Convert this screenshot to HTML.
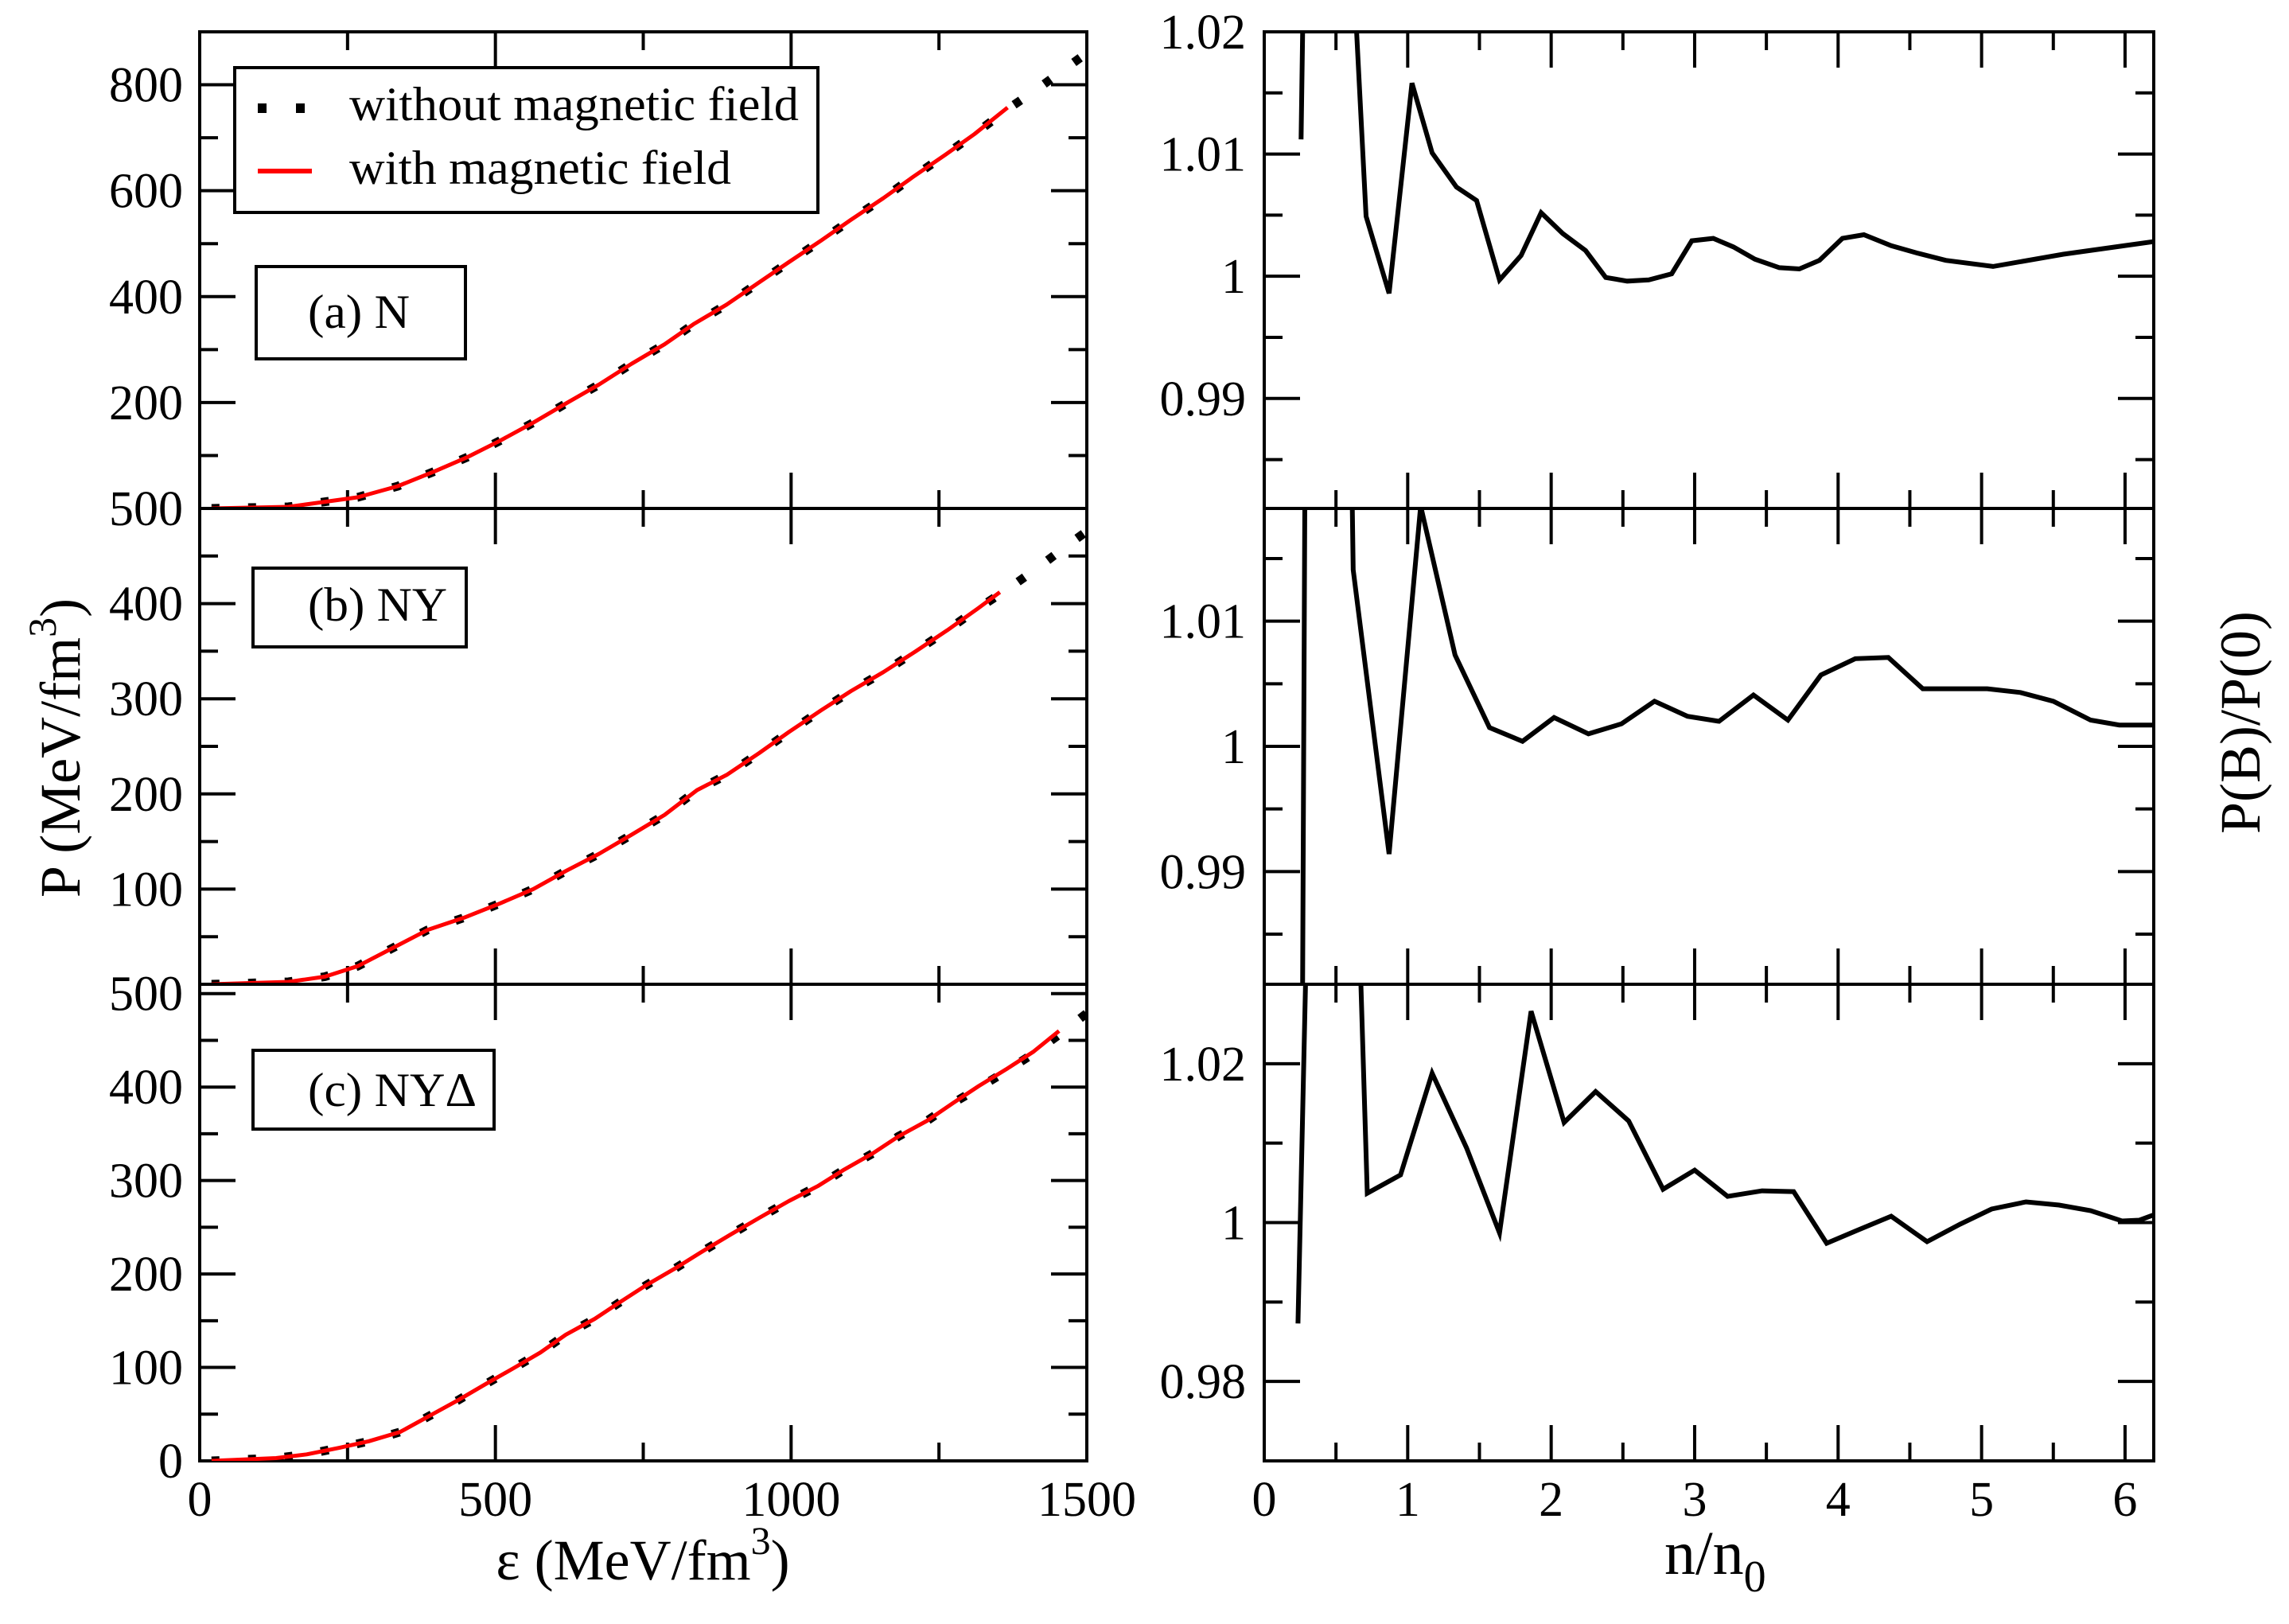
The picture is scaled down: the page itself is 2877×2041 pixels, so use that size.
<!DOCTYPE html>
<html><head><meta charset="utf-8"><style>
html,body{margin:0;padding:0;background:#fff;}
svg, svg text, svg tspan{font-family:"Liberation Serif","Times New Roman",serif !important;}
</style></head><body>
<svg id="chart" width="2877" height="2036" viewBox="0 0 2877 2036" xmlns="http://www.w3.org/2000/svg" style="font-family:'Liberation Serif',serif">
<defs>
<clipPath id="cl1"><rect x="251" y="40" width="1115" height="599"/></clipPath>
<clipPath id="cl2"><rect x="251" y="639" width="1115" height="598"/></clipPath>
<clipPath id="cl3"><rect x="251" y="1237" width="1115" height="599"/></clipPath>
<clipPath id="cr1"><rect x="1589" y="40" width="1118" height="599"/></clipPath>
<clipPath id="cr2"><rect x="1589" y="639" width="1118" height="598"/></clipPath>
<clipPath id="cr3"><rect x="1589" y="1237" width="1118" height="599"/></clipPath>
</defs>
<g id="layer"></g>
<text style="font-family:'Liberation Serif',serif" transform="translate(100,940) rotate(-90)" text-anchor="middle" font-size="72">P (MeV/fm<tspan dy="-30" font-size="50">3</tspan><tspan dy="30">)</tspan></text>
<text style="font-family:'Liberation Serif',serif" transform="translate(2840,908) rotate(-90)" text-anchor="middle" font-size="72">P(B)/P(0)</text>
<text style="font-family:'Liberation Serif',serif" x="808" y="1985" text-anchor="middle" font-size="72">ε (MeV/fm<tspan dy="-32" font-size="50">3</tspan><tspan dy="32">)</tspan></text>
<text style="font-family:'Liberation Serif',serif" x="2092" y="1978" font-size="78">n/n<tspan dy="22" font-size="56">0</tspan></text>
<g>
<rect x="295" y="85" width="733" height="182" fill="#fff" stroke="#000" stroke-width="4"/>
<line x1="324" y1="136" x2="392" y2="136" stroke="#000" stroke-width="12" stroke-dasharray="11 37"/>
<text style="font-family:'Liberation Serif',serif" x="439" y="151" font-size="60" textLength="565" lengthAdjust="spacingAndGlyphs">without magnetic field</text>
<line x1="324" y1="215" x2="392" y2="215" stroke="#f00" stroke-width="6"/>
<text style="font-family:'Liberation Serif',serif" x="439" y="231" font-size="60" textLength="480" lengthAdjust="spacingAndGlyphs">with magnetic field</text>
</g>
<g><rect x="322" y="335" width="263" height="116" fill="#fff" stroke="#000" stroke-width="4"/><text style="font-family:'Liberation Serif',serif" x="387" y="412" font-size="60" textLength="128" lengthAdjust="spacingAndGlyphs">(a) N</text></g>
<g><rect x="318" y="714" width="268" height="99" fill="#fff" stroke="#000" stroke-width="4"/><text style="font-family:'Liberation Serif',serif" x="387" y="780" font-size="60" textLength="175" lengthAdjust="spacingAndGlyphs">(b) NY</text></g>
<g><rect x="318" y="1320" width="303" height="99" fill="#fff" stroke="#000" stroke-width="4"/><text style="font-family:'Liberation Serif',serif" x="387" y="1390" font-size="60" textLength="212" lengthAdjust="spacingAndGlyphs">(c) NYΔ</text></g>
</svg>
<script>
// ---- data ----
const epsA = [20,150,267,335,397,453,508,564,619,675,730,786,835,891,946,996,1051,1101,1156,1206,1261,1310,1366,1416,1468,1500];
const pA0  = [0,3,21,42,70,97,128,162,198,234,273,310,348,385,427,465,506,545,586,626,668,707,754,792,834,860];
const epsAB = [20,150,267,335,397,453,508,564,619,675,730,786,835,891,946,996,1051,1101,1156,1206,1261,1310,1366];
const pAB  = [0,3,21,42,70,97,128,162,198,234,273,310,348,385,427,465,506,545,586,626,668,707,757];
const epsB = [20,150,212,267,329,385,447,508,564,619,675,730,786,841,891,946,996,1051,1101,1156,1211,1264,1316,1368,1420,1471,1500];
const pB0  = [0,2.5,8,19,39,57,70,85,100,119,137,157,178,204,220,243,265,288,308,328,350,372,395,416,439,463,476];
const epsBB = [20,150,212,267,329,385,447,508,564,619,675,730,786,841,891,946,996,1051,1101,1156,1211,1264,1316,1353];
const pBB  = [0,2.5,8,19,39,57,70,85,100,119,137,157,178,204,220,243,265,288,308,328,350,372,395,412];
const epsC = [20,129,181,236,286,339,391,437,483,533,576,619,668,711,755,804,847,897,946,996,1045,1088,1138,1181,1230,1274,1317,1366,1410,1453,1500];
const pC0  = [0,3,7,14,21,31,49,65,82,100,116,135,152,170,188,206,223,242,260,278,294,311,329,347,364,383,399,418,436,456,479];
const epsCB = [20,129,181,236,286,339,391,437,483,533,576,619,668,711,755,804,847,897,946,996,1045,1088,1138,1181,1230,1274,1317,1366,1410,1453];
const pCB  = [0,3,7,14,21,31,49,65,82,100,116,135,152,170,188,206,223,242,260,278,294,311,329,347,364,383,401,420,438,460];
const nA = [0.257,0.28,0.60,0.71,0.87,1.03,1.17,1.34,1.48,1.64,1.79,1.93,2.08,2.24,2.38,2.53,2.68,2.84,2.98,3.13,3.27,3.42,3.59,3.73,3.87,4.03,4.18,4.37,4.55,4.75,5.08,5.57,6.24];
const rA = [1.0112,1.03,1.03,1.0049,0.9986,1.0158,1.0101,1.0073,1.0062,0.9997,1.0017,1.0052,1.0035,1.0021,0.9999,0.9996,0.9997,1.0002,1.0029,1.0031,1.0024,1.0014,1.0007,1.0006,1.0013,1.0031,1.0034,1.0025,1.0019,1.0013,1.0008,1.0018,1.0029];
const nB = [0.255,0.295,0.60,0.62,0.87,1.09,1.33,1.57,1.80,2.02,2.26,2.49,2.72,2.95,3.17,3.41,3.65,3.88,4.12,4.35,4.59,4.81,5.04,5.27,5.50,5.76,5.96,6.28];
const rB = [0.95,1.05,1.03,1.0141,0.9914,1.0192,1.0073,1.0015,1.0004,1.0023,1.0010,1.0018,1.0036,1.0024,1.0020,1.0041,1.0021,1.0057,1.0070,1.0071,1.0046,1.0046,1.0046,1.0043,1.0036,1.0021,1.0017,1.0017];
const nC = [0.235,0.30,0.64,0.718,0.95,1.17,1.41,1.64,1.86,2.09,2.31,2.54,2.78,3.00,3.23,3.47,3.69,3.92,4.13,4.37,4.62,4.85,5.07,5.31,5.54,5.76,5.98,6.10,6.22];
const rC = [0.9873,1.04,1.05,1.0037,1.0060,1.0188,1.0094,0.9987,1.0266,1.0126,1.0165,1.0128,1.0042,1.0066,1.0033,1.0040,1.0039,0.9974,0.9990,1.0008,0.9976,0.9998,1.0017,1.0026,1.0022,1.0015,1.0002,1.0003,1.0011];
const xTicksL = [0,500,1000,1500];
const xTicksR = [0,1,2,3,4,5,6];

const NS='http://www.w3.org/2000/svg';
const layer=document.getElementById('layer');
const FSTYLE="font-family:'Liberation Serif',serif";
function mk(tag,attrs,parent){const e=document.createElementNS(NS,tag);for(const k in attrs)e.setAttribute(k,attrs[k]);(parent||layer).appendChild(e);return e;}

const L={x0:251,x1:1366,xmin:0,xmax:1500};
const R={x0:1589,x1:2707,xmin:0,xmax:6.2};
const panelsL=[
 {y0:40,y1:639,ymin:0,ymax:900,major:200,minor:100,labels:[200,400,600,800],clip:'cl1',n:'a',e0:epsA,p0:pA0,eB:epsAB,pB:pAB},
 {y0:639,y1:1237,ymin:0,ymax:500,major:100,minor:50,labels:[100,200,300,400,500],clip:'cl2',n:'b',e0:epsB,p0:pB0,eB:epsBB,pB:pBB},
 {y0:1237,y1:1836,ymin:0,ymax:510,major:100,minor:50,labels:[0,100,200,300,400,500],clip:'cl3',n:'c',e0:epsC,p0:pC0,eB:epsCB,pB:pCB}];
const panelsR=[
 {y0:40,y1:639,ymin:0.981,ymax:1.02,major:0.01,minor:0.005,labels:['0.99','1','1.01','1.02'],lv:[0.99,1,1.01,1.02],clip:'cr1',n:'a',xs:nA,ys:rA},
 {y0:639,y1:1237,ymin:0.981,ymax:1.019,major:0.01,minor:0.005,labels:['0.99','1','1.01'],lv:[0.99,1,1.01],clip:'cr2',n:'b',xs:nB,ys:rB},
 {y0:1237,y1:1836,ymin:0.97,ymax:1.03,major:0.02,minor:0.01,labels:['0.98','1','1.02'],lv:[0.98,1,1.02],clip:'cr3',n:'c',xs:nC,ys:rC}];

function sx(ax,v){return ax.x0+(v-ax.xmin)/(ax.xmax-ax.xmin)*(ax.x1-ax.x0);}
function sy(p,v){return p.y1-(v-p.ymin)/(p.ymax-p.ymin)*(p.y1-p.y0);}

function drawFrame(ax,p,side,xmaj,xmin){
  const g=mk('g',{});
  
  
  const eps=1e-9;
  for(let v=Math.ceil(p.ymin/p.minor-eps)*p.minor; v<=p.ymax+eps; v+=p.minor){
    const isMaj=Math.abs(v/p.major-Math.round(v/p.major))<1e-6;
    const len=isMaj?45:23, y=sy(p,v);
    if(y<p.y0+2||y>p.y1-2) continue;
    mk('line',{x1:ax.x0,y1:y,x2:ax.x0+len,y2:y,stroke:'#000','stroke-width':4},g);
    mk('line',{x1:ax.x1,y1:y,x2:ax.x1-len,y2:y,stroke:'#000','stroke-width':4},g);
  }
  for(let v=ax.xmin; v<=ax.xmax+1e-9; v+=xmin){
    const isMaj=Math.abs(v/xmaj-Math.round(v/xmaj))<1e-6;
    const len=isMaj?45:23, x=sx(ax,v);
    if(x<ax.x0+2||x>ax.x1-2) continue;
    mk('line',{x1:x,y1:p.y1,x2:x,y2:p.y1-len,stroke:'#000','stroke-width':4},g);
    mk('line',{x1:x,y1:p.y0,x2:x,y2:p.y0+len,stroke:'#000','stroke-width':4},g);
  }
  mk('rect',{x:ax.x0,y:p.y0,width:ax.x1-ax.x0,height:p.y1-p.y0,fill:'none',stroke:'#000','stroke-width':4},g);
}
function pts(ax,p,xs,ys){return xs.map((x,i)=>sx(ax,x).toFixed(1)+','+sy(p,ys[i]).toFixed(1)).join(' ');}

panelsL.forEach(p=>{
  drawFrame(L,p,'left',500,250);
  const g=mk('g',{'clip-path':'url(#'+p.clip+')'});
  
  
  const blk=mk('polyline',{points:pts(L,p,p.e0,p.p0),fill:'none',stroke:'#000','stroke-width':11,'stroke-dasharray':'10 36'},g);
  
  
  const red=mk('polyline',{points:pts(L,p,p.eB,p.pB),fill:'none',stroke:'#f00','stroke-width':5,'stroke-linejoin':'round'},g);
  
  
  p.labels.forEach(v=>{
    const t=mk('text',{x:230,y:sy(p,v)+21,'text-anchor':'end','font-size':62,style:FSTYLE});
    
    
    t.textContent=String(v);
  });
});
xTicksL.forEach(v=>{
  const t=mk('text',{x:sx(L,v),y:1905,'text-anchor':'middle','font-size':62,style:FSTYLE});
  
  
  t.textContent=String(v);
});
panelsR.forEach(p=>{
  drawFrame(R,p,'right',1,0.5);
  const g=mk('g',{'clip-path':'url(#'+p.clip+')'});
  
  
  const ln=mk('polyline',{points:pts(R,p,p.xs,p.ys),fill:'none',stroke:'#000','stroke-width':6,'stroke-linejoin':'miter'},g);
  
  
  p.labels.forEach((s,i)=>{
    const t=mk('text',{x:1566,y:sy(p,p.lv[i])+21,'text-anchor':'end','font-size':62,style:FSTYLE});
    
    
    t.textContent=s;
  });
});
xTicksR.forEach(v=>{
  const t=mk('text',{x:sx(R,v),y:1905,'text-anchor':'middle','font-size':62,style:FSTYLE});
  
  
  t.textContent=String(v);
});
</script>
</body></html>
